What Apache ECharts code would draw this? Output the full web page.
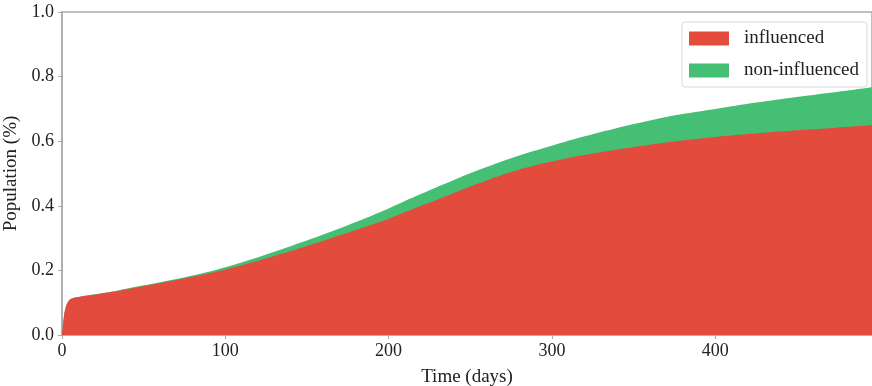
<!DOCTYPE html>
<html>
<head>
<meta charset="utf-8">
<script src="https://cdn.jsdelivr.net/npm/echarts@6/dist/echarts.min.js"></script>
<style>
  html, body { margin: 0; padding: 0; background: #fff; }
  #container { width: 872px; height: 386px; }
</style>
</head>
<body>
<div id="container"></div>
<script>
// 数据：时间(天)，两类人群比例
var days = [0, 1, 2, 4, 6, 10, 20, 30, 40, 60, 80, 100, 120, 140, 160, 180, 200, 220, 240, 260, 280, 300, 320, 340, 360, 380, 400, 420, 440, 460, 480, 496];
var influenced = [0, 0.05, 0.08, 0.105, 0.113, 0.118, 0.125, 0.133, 0.142, 0.160, 0.180, 0.203, 0.230, 0.260, 0.292, 0.325, 0.360, 0.400, 0.440, 0.478, 0.512, 0.537, 0.557, 0.574, 0.589, 0.602, 0.613, 0.622, 0.630, 0.637, 0.644, 0.650];
var nonInfluenced = [0, 0, 0, 0, 0, 0, 0.001, 0.001, 0.002, 0.003, 0.004, 0.007, 0.011, 0.015, 0.019, 0.025, 0.032, 0.037, 0.040, 0.042, 0.044, 0.049, 0.058, 0.067, 0.075, 0.082, 0.087, 0.094, 0.100, 0.106, 0.112, 0.117];
var seriesNames = ['influenced', 'non-influenced'];
var seriesColors = ['#e34b3d', '#45bf74'];

var font = 'Liberation Serif';

// 堆叠：绿色区域画在 influenced + non-influenced 的顶部，红色盖在上面
var redPts = days.map(function (d, i) { return [d, influenced[i]]; });
var greenPts = days.map(function (d, i) { return [d, influenced[i] + nonInfluenced[i]]; });

var myChart = echarts.init(document.getElementById('container'));
var option = {
	animation: false,
	grid: {
		left: 62, right: 0, top: 12, bottom: 51,
		outerBoundsMode: 'none',
		containLabel: false,
		show: true, borderColor: '#aaa', borderWidth: 1.5, backgroundColor: 'transparent'
	},
	legend: {
		data: seriesNames,
		orient: 'vertical',
		right: 5,
		top: 22,
		padding: [7, 8, 7, 7],
		itemWidth: 40,
		itemHeight: 14,
		itemGap: 13,
		icon: 'rect',
		backgroundColor: '#fff',
		borderColor: '#d8d8d8',
		borderWidth: 1,
		borderRadius: 3,
		textStyle: { fontFamily: font, fontSize: 19, color: '#222', padding: [0, 0, 0, 10] }
	},
	xAxis: {
		type: 'value',
		min: 0,
		max: 496,
		interval: 100,
		name: 'Time (days)',
		nameLocation: 'middle',
		nameGap: 33,
		nameTextStyle: { fontFamily: font, fontSize: 19, color: '#222' },
		splitLine: { show: false },
		axisLine: { lineStyle: { color: '#aaa', width: 1.5 } },
		axisTick: { show: true, length: 4, lineStyle: { color: '#aaa' } },
		axisLabel: { fontFamily: font, fontSize: 18, color: '#222', margin: 7, showMaxLabel: false }
	},
	yAxis: {
		type: 'value',
		min: 0,
		max: 1,
		interval: 0.2,
		name: 'Population (%)',
		nameLocation: 'middle',
		nameGap: 36,
		nameTextStyle: { fontFamily: font, fontSize: 19, color: '#222' },
		splitLine: { show: false },
		axisLine: { show: true, lineStyle: { color: '#aaa', width: 1.5 } },
		axisTick: { show: true, length: 4, lineStyle: { color: '#aaa' } },
		axisLabel: {
			fontFamily: font, fontSize: 18, color: '#222', margin: 8,
			formatter: function (v) { return v.toFixed(1); }
		}
	},
	series: [{
		name: seriesNames[1],
		type: 'line',
		data: greenPts,
		showSymbol: false,
		smooth: 0.4,
		itemStyle: { color: seriesColors[1] },
		lineStyle: { width: 0 },
		areaStyle: { color: seriesColors[1], opacity: 1, origin: 'start' },
		z: 1
	}, {
		name: seriesNames[0],
		type: 'line',
		data: redPts,
		showSymbol: false,
		smooth: 0.4,
		itemStyle: { color: seriesColors[0] },
		lineStyle: { width: 0 },
		areaStyle: { color: seriesColors[0], opacity: 1, origin: 'start' },
		z: 2
	}]
};
myChart.setOption(option);
</script>
</body>
</html>
